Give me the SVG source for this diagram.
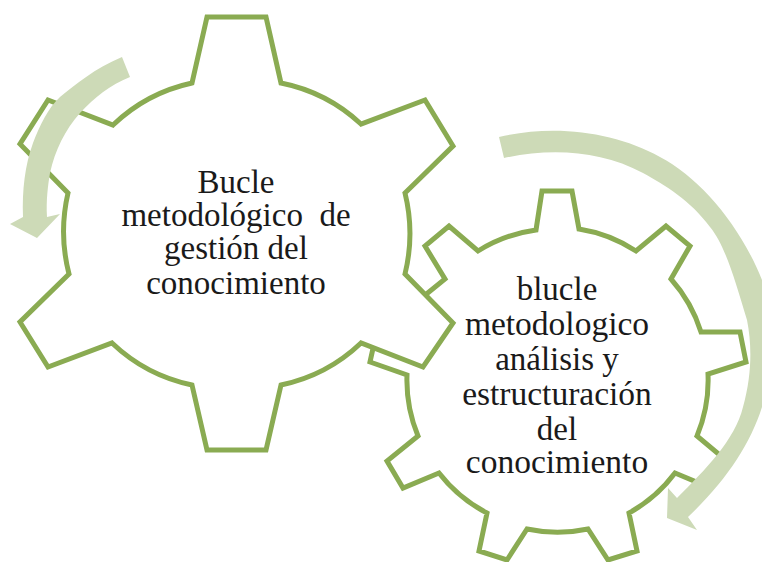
<svg xmlns="http://www.w3.org/2000/svg" width="762" height="562" viewBox="0 0 762 562">
<style>
.gear{fill:#fff;stroke:#8aab52;stroke-width:5;stroke-linejoin:miter}
.arrow{fill:#cddab7}
text{font-family:"Liberation Serif","Times New Roman",serif;font-size:33px;fill:#1a1a1a;text-anchor:middle;white-space:pre}
</style>
<rect width="762" height="562" fill="#fff"/>
<g id="gear-2">
<path class="gear" d="M536 230L542 191H572L579 229A145 145 0 0 1 636 251L666 226L690 246L671 279A145 145 0 0 1 701 332H740L746 362L708 374A145 145 0 0 1 697 436L727 461L711 488L675 473A145 145 0 0 1 629 513L637 551L608 560L588 529A145 145 0 0 1 527 529L507 560L479 551L487 513A145 145 0 0 1 439 473L403 488L387 461L418 436A145 145 0 0 1 407 375L370 362L376 335L445 279L425 246L449 226L478 251A145 145 0 0 1 536 230Z"/>
<text x="557" y="300">blucle</text>
<text x="557" y="335" font-size="33.5" style="font-size:33.5px">metodologico</text>
<text x="557" y="370">análisis y</text>
<text x="557" y="405" style="font-size:33.5px">estructuración</text>
<text x="557" y="440">del</text>
<text x="557" y="473" style="font-size:33.5px">conocimiento</text>
</g>
<g id="gear-1">
<path class="gear" d="M192 83L207 17H266L281 83A165 165 0 0 1 361 124L425 100L453 146L405 193A170 170 0 0 1 405 274L453 323L423 367L361 343A165 165 0 0 1 281 385L266 450H207L192 385A165 165 0 0 1 112 343L48 367L20 322L69 274A170 170 0 0 1 68 193L20 144L48 100L113 125A165 165 0 0 1 192 83Z"/>
<text x="236" y="193">Bucle</text>
<text x="236" y="226">metodológico  de</text>
<text x="236" y="259">gestión del</text>
<text x="236" y="294">conocimiento</text>
</g>
<g id="connectors">
<path class="arrow" d="M122 57C95 68 75 85 60 97C48 108 40 125 33 143C25 165 22 190 23 217L10 224L37 238L60 214L47 217C46 200 48 185 50 173C55 150 65 130 80 113C95 97 110 85 130 77Z"/>
<path class="arrow" d="M499 137C555 124 615 132 660 157C700 178 740 225 762 280V407C750 445 725 482 688 517L697 530L667 518L668 488L677 498C705 470 735 440 743 407C752 375 752 345 747 320C735 280 725 245 710 227C690 200 665 185 643 173C600 150 550 148 504 158Z"/>
</g>
</svg>
